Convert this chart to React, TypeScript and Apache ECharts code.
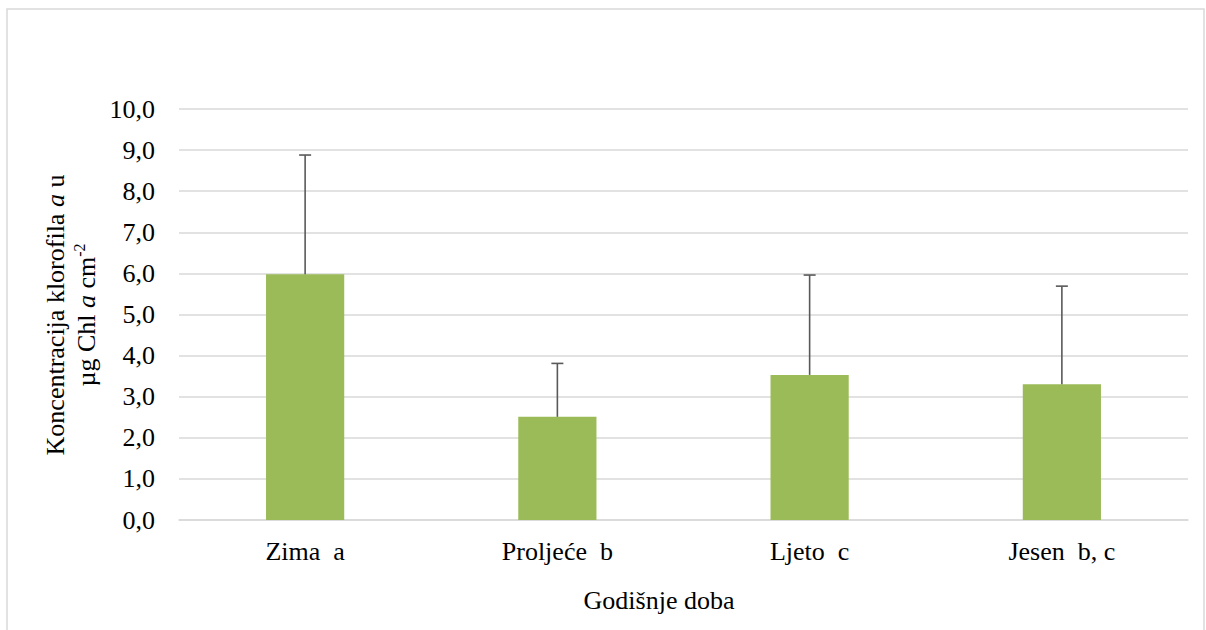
import React, { useEffect, useRef } from "react";
import * as echarts from "echarts";

const categories = ["Zima  a", "Proljeće  b", "Ljeto  c", "Jesen  b, c"];
const means = [5.98, 2.51, 3.53, 3.3];
const upperErr = [8.88, 3.81, 5.96, 5.69];
const yTicks = { min: 0, max: 10, interval: 1 };

const FONT = "Liberation Serif";
const FS = 26;

export default function App() {
  const ref = useRef<HTMLDivElement>(null);
  useEffect(() => {
    const chart = echarts.init(ref.current!, null, { renderer: "svg" });
    const errData = categories.map((_, i) => [i, means[i], upperErr[i]]);
    chart.setOption({
      animation: false,
      backgroundColor: "#ffffff",
      textStyle: { fontFamily: FONT },
      grid: { left: 179, right: 18, top: 109, bottom: 110, containLabel: false },
      xAxis: {
        type: "category",
        data: categories,
        axisTick: { show: false },
        axisLine: { lineStyle: { color: "#d9d9d9", width: 1.5 } },
        axisLabel: { color: "#000", fontFamily: FONT, fontSize: FS, margin: 18 },
      },
      yAxis: {
        type: "value",
        min: yTicks.min,
        max: yTicks.max,
        interval: yTicks.interval,
        axisLine: { show: false },
        axisTick: { show: false },
        splitLine: { lineStyle: { color: "#d9d9d9", width: 1.5 } },
        axisLabel: {
          color: "#000",
          fontFamily: FONT,
          fontSize: FS,
          margin: 24,
          formatter: (v: number) => v.toFixed(1).replace(".", ","),
        },
      },
      graphic: [
        {
          type: "rect",
          shape: { x: 7, y: 9, width: 1197, height: 700 },
          style: { fill: "none", stroke: "#d9d9d9", lineWidth: 1.5 },
          silent: true,
        },
        {
          type: "text",
          x: 659,
          y: 600,
          style: {
            text: "Godišnje doba",
            fontFamily: FONT,
            fontSize: FS,
            fill: "#000",
            align: "center",
            verticalAlign: "middle",
          },
        },
        {
          type: "text",
          x: 71,
          y: 315,
          rotation: Math.PI / 2,
          style: {
            text: "{n|Koncentracija klorofila }{i|a}{n| u}\n{n|µg Chl }{i|a}{n| cm}{s|-2}",
            align: "center",
            verticalAlign: "middle",
            fill: "#000",
            fontFamily: FONT,
            fontSize: FS,
            rich: {
              n: { fontFamily: FONT, fontSize: FS, lineHeight: 31, fill: "#000" },
              i: { fontFamily: FONT, fontSize: FS, fontStyle: "italic", lineHeight: 31, fill: "#000" },
              s: { fontFamily: FONT, fontSize: 16, lineHeight: 16, verticalAlign: "top", fill: "#000" },
            },
          },
        },
      ],
      series: [
        {
          type: "bar",
          data: means,
          barWidth: "31%",
          itemStyle: { color: "#9BBB59" },
          z: 2,
        },
        {
          type: "custom",
          data: errData,
          z: 3,
          renderItem: (params: any, api: any) => {
            const idx = api.value(0);
            const low = api.coord([idx, api.value(1)]);
            const high = api.coord([idx, api.value(2)]);
            const hw = 6;
            const style = { stroke: "#595959", lineWidth: 1.6 };
            return {
              type: "group",
              children: [
                { type: "line", shape: { x1: low[0], y1: low[1], x2: high[0], y2: high[1] }, style },
                { type: "line", shape: { x1: high[0] - hw, y1: high[1], x2: high[0] + hw, y2: high[1] }, style },
              ],
            };
          },
        },
      ],
    });
    return () => chart.dispose();
  }, []);
  return (
    <div
      ref={ref}
      style={{ position: "fixed", left: 0, top: 0, width: 1206, height: 630 }}
    />
  );
}
